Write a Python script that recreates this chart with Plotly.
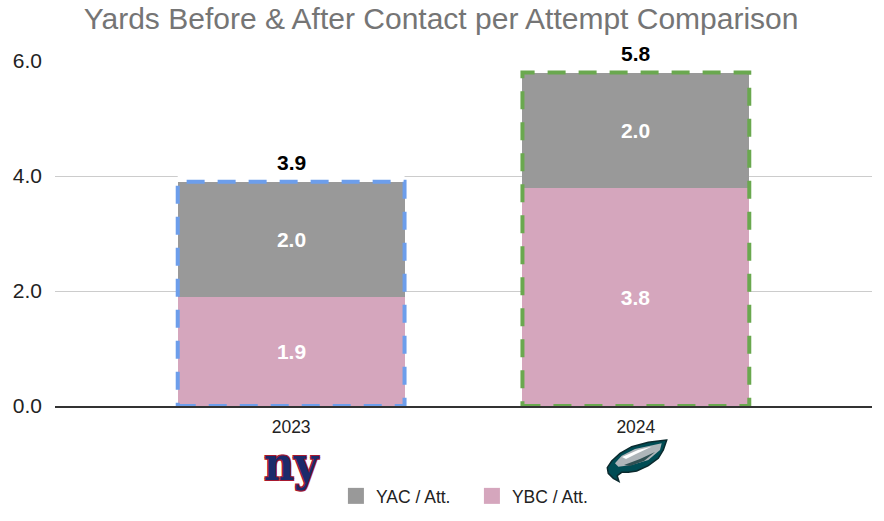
import plotly.graph_objects as go

categories = ["2023", "2024"]
ybc = [1.9, 3.8]
yac = [2.0, 2.0]
totals = [3.9, 5.8]
outline_colors = ["#6d9eeb", "#6aa84f"]
y_ticks = [0, 2, 4, 6]
y_tick_labels = ["0.0", "2.0", "4.0", "6.0"]

YBC_COLOR = "#d5a6bd"
YAC_COLOR = "#999999"
BAR_W = 0.658
FONT = "Liberation Sans"

fig = go.Figure()
x_idx = list(range(len(categories)))
fig.add_trace(go.Bar(
    x=x_idx, y=ybc, name="YBC / Att.", legendgroup="ybc", showlegend=False,
    marker=dict(color=YBC_COLOR, line=dict(width=0)), width=BAR_W,
    text=[f"{v:.1f}" for v in ybc], textposition="inside", insidetextanchor="middle",
    textfont=dict(color="white", size=21, family=FONT, weight="bold"),
    hoverinfo="skip",
))
fig.add_trace(go.Bar(
    x=x_idx, y=yac, name="YAC / Att.", legendgroup="yac", showlegend=False,
    marker=dict(color=YAC_COLOR, line=dict(width=0)), width=BAR_W,
    text=[f"{v:.1f}" for v in yac], textposition="inside", insidetextanchor="middle",
    textfont=dict(color="white", size=21, family=FONT, weight="bold"),
    hoverinfo="skip",
))
# legend entries (square swatches)
for name, col, grp in [("YAC / Att.", YAC_COLOR, "yac"), ("YBC / Att.", YBC_COLOR, "ybc")]:
    fig.add_trace(go.Scatter(x=[None], y=[None], mode="markers", name=name, legendgroup=grp,
                             marker=dict(symbol="square", size=16, color=col), hoverinfo="skip"))

shapes = []
annotations = []
for i, (tot, col) in enumerate(zip(totals, outline_colors)):
    # white gap above bar (hides gridline)
    shapes.append(dict(type="rect", xref="x", yref="y", layer="between",
                       x0=i - BAR_W / 2, x1=i + BAR_W / 2, y0=tot, y1=tot + 0.14,
                       fillcolor="white", line=dict(width=0)))
    shapes.append(dict(type="rect", xref="x", yref="y", layer="above",
                       x0=i - BAR_W / 2, x1=i + BAR_W / 2, y0=0, y1=tot,
                       fillcolor="rgba(0,0,0,0)",
                       line=dict(color=col, width=4, dash="18px,13px")))
    annotations.append(dict(x=i, y=tot, xref="x", yref="y", text=f"<b>{tot:.1f}</b>",
                            showarrow=False, yanchor="bottom", yshift=6,
                            font=dict(size=21, color="black", family=FONT)))

# Team logos (approximations), positioned in screen pixels relative to plot area
def px_x(p):
    return (p - 55) / 817.0

def px_y(p):
    return (406 - p) / 345.0

def poly(points):
    return "M " + " L ".join(f"{px_x(a):.4f},{px_y(b):.4f}" for a, b in points) + " Z"

annotations.append(dict(x=px_x(292), y=px_y(464), xref="paper", yref="paper",
                        text="<b>ny</b>", showarrow=False,
                        font=dict(size=46, color="#1b2a6b",
                                  family="DejaVu Serif Condensed, DejaVu Serif",
                                  shadow="1px 1px 0 #a71930, -1px -1px 0 #a71930, 1px -1px 0 #a71930, -1px 1px 0 #a71930"),
                        yanchor="middle", xanchor="center"))

eagle = [(666.7, 440), (648.3, 442.3), (631.7, 446.7), (620, 453.3), (611.7, 461),
         (607.3, 467.7), (608.3, 473.3), (613.3, 478.3), (619, 481.5), (617.2, 475.7),
         (621.7, 472.3), (628.3, 472.3), (636.7, 471), (648.3, 465.7), (658.3, 458.3),
         (663.3, 450)]
shapes.append(dict(type="path", xref="paper", yref="paper", path=poly(eagle),
                   fillcolor="#004c54", line=dict(color="#0b2a2e", width=1.5), layer="above"))
silver = [(661.7, 443.3), (635, 449), (621.7, 455.7), (615, 463.3), (618.3, 466.7),
          (631.7, 465), (648.3, 460), (660, 450)]
shapes.append(dict(type="path", xref="paper", yref="paper", path=poly(silver),
                   fillcolor="#aeb5b9", line=dict(width=0), layer="above"))
white = [(622, 457), (638, 450), (652, 446.5), (636, 454), (626, 459)]
shapes.append(dict(type="path", xref="paper", yref="paper", path=poly(white),
                   fillcolor="#ffffff", line=dict(width=0), layer="above"))
streak = [(624, 465), (640, 459), (655, 452), (644, 461), (630, 466)]
shapes.append(dict(type="path", xref="paper", yref="paper", path=poly(streak),
                   fillcolor="#2f4f52", line=dict(width=0), layer="above"))

fig.update_layout(
    width=884, height=521,
    margin=dict(l=55, r=12, t=61, b=115),
    paper_bgcolor="white", plot_bgcolor="white",
    barmode="stack", bargap=0,
    title=dict(text="Yards Before & After Contact per Attempt Comparison",
               x=0.499, xanchor="center", y=0.964, yanchor="middle",
               font=dict(size=30, color="#757575", family=FONT)),
    xaxis=dict(tickmode="array", tickvals=x_idx, ticktext=categories,
               range=[-0.685, 1.685], showgrid=False, zeroline=False,
               showline=True, linecolor="#333333", linewidth=1.5,
               tickfont=dict(size=17.5, color="#222222", family=FONT), ticks="",
               ticklabelstandoff=4),
    yaxis=dict(range=[0, 6], tickvals=y_ticks, ticktext=y_tick_labels,
               showgrid=True, gridcolor="#cccccc", gridwidth=1, zeroline=False,
               tickfont=dict(size=21, color="#222222", family=FONT), ticks="",
               ticklabelstandoff=12),
    legend=dict(orientation="h", xref="container", yref="container",
                x=0.380, xanchor="left", y=0.048, yanchor="middle",
                font=dict(size=17.5, color="#222222", family=FONT),
                itemwidth=30, entrywidth=91, itemclick=False, itemdoubleclick=False),
    shapes=shapes, annotations=annotations,
    showlegend=True,
)
fig.update_traces(cliponaxis=False, selector=dict(type="bar"))

fig.write_html("out.html", config={"displayModeBar": False},
               post_script="document.body.style.margin='0px';document.body.style.overflow='hidden';")
